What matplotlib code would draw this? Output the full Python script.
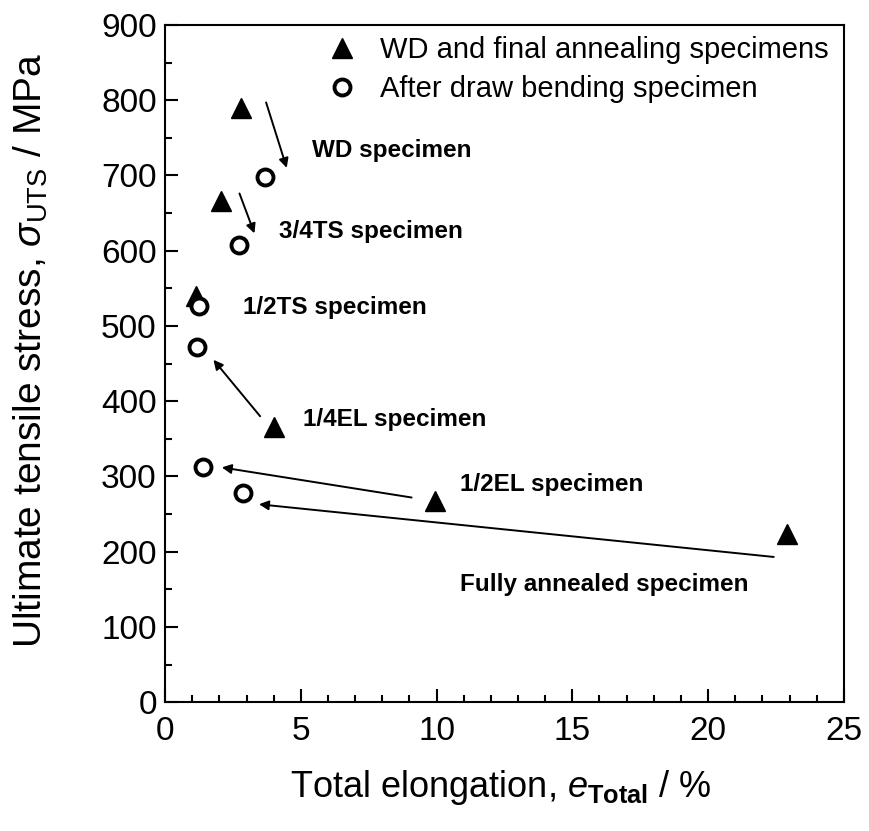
import matplotlib
matplotlib.use("Agg")
import matplotlib.pyplot as plt
from matplotlib.ticker import MultipleLocator

plt.rcParams['font.family'] = ['Liberation Sans', 'DejaVu Sans']
plt.rcParams['mathtext.fontset'] = 'custom'
plt.rcParams['mathtext.rm'] = 'Liberation Sans'
plt.rcParams['mathtext.it'] = 'Liberation Sans:italic'
plt.rcParams['mathtext.bf'] = 'Liberation Sans:bold'

# Data
wd_elong = [2.79, 2.05, 1.15, 4.0, 9.95, 22.9]
wd_uts = [790, 666, 540, 366, 268, 224]
db_elong = [3.68, 2.74, 1.23, 1.17, 1.41, 2.88]
db_uts = [698, 608, 526, 472, 313, 278]

labels = ["WD specimen", "3/4TS specimen", "1/2TS specimen", "1/4EL specimen",
          "1/2EL specimen", "Fully annealed specimen"]
label_x = [5.41, 4.20, 2.87, 5.08, 10.86, 10.86]
label_y = [733, 625, 525, 376, 289, 156]

arrow_tail_x = [3.72, 2.74, 3.50, 9.08, 22.42]
arrow_tail_y = [797, 676, 380, 272, 193]
arrow_head_x = [4.48, 3.29, 1.78, 2.09, 3.46]
arrow_head_y = [710, 623, 455, 312, 263]

fig = plt.figure(figsize=(8.69, 8.31), dpi=100)
ax = fig.add_axes([0.190, 0.155, 0.781, 0.815])

ax.plot(wd_elong, wd_uts, linestyle='none', marker='^', ms=15, color='black',
        label='WD and final annealing specimens')
ax.plot(db_elong, db_uts, linestyle='none', marker='o', ms=11.5, mew=2.8,
        mfc='white', mec='black', label='After draw bending specimen')

for lx, ly, t in zip(label_x, label_y, labels):
    ax.text(lx, ly, t, fontsize=17.5, fontweight='bold', ha='left', va='center')

for tx, ty, hx, hy in zip(arrow_tail_x, arrow_tail_y, arrow_head_x, arrow_head_y):
    ax.annotate('', xy=(hx, hy), xytext=(tx, ty),
                arrowprops=dict(arrowstyle='-|>', lw=1.4, color='black',
                                mutation_scale=14, shrinkA=0, shrinkB=0))

ax.set_xlim(0, 25)
ax.set_ylim(0, 900)
ax.xaxis.set_major_locator(MultipleLocator(5))
ax.xaxis.set_minor_locator(MultipleLocator(1))
ax.yaxis.set_major_locator(MultipleLocator(100))
ax.yaxis.set_minor_locator(MultipleLocator(50))
ax.tick_params(which='both', direction='in', top=False, right=False, width=1.5)
ax.tick_params(which='major', length=9.5)
ax.tick_params(which='minor', length=5)
ax.tick_params(axis='y', labelsize=24, pad=6)
ax.tick_params(axis='x', labelsize=24, pad=10)
for s in ax.spines.values():
    s.set_linewidth(1.5)

ax.set_xlabel(r'Total elongation, $e_{\mathbf{Total}}$ / %', fontsize=26)
ax.set_ylabel(r'Ultimate tensile stress, $\sigma_{\mathrm{UTS}}$ / MPa', fontsize=28)
ax.xaxis.set_label_coords(0.495, -0.097)
ax.yaxis.set_label_coords(-0.170, 0.52)

leg = ax.legend(loc='upper left', bbox_to_anchor=(0.235, 0.988), frameon=False,
                fontsize=21, handlelength=1.0, handletextpad=0.8,
                borderpad=0.1, borderaxespad=0.0, labelspacing=0.38, numpoints=1)

fig.savefig('out.png', dpi=100)
